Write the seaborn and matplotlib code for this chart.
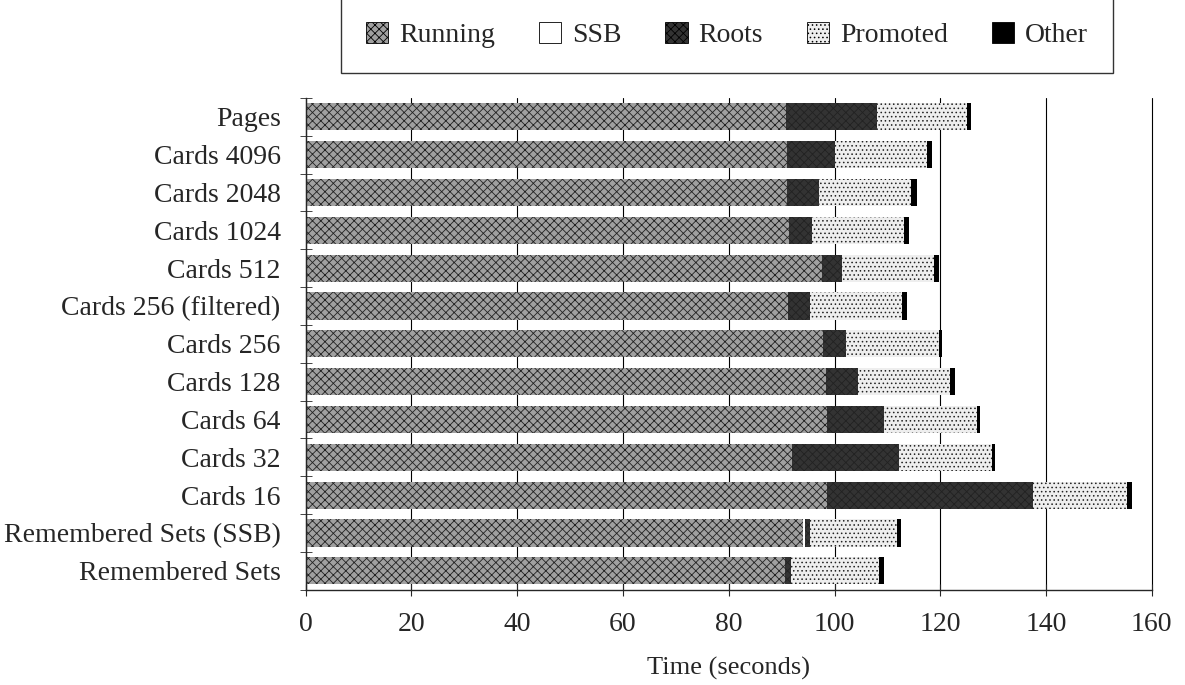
import numpy as np
import pandas as pd
import seaborn as sns
import matplotlib.pyplot as plt
from matplotlib.patches import Patch

configs = ["Pages", "Cards 4096", "Cards 2048", "Cards 1024", "Cards 512",
           "Cards 256 (filtered)", "Cards 256", "Cards 128", "Cards 64",
           "Cards 32", "Cards 16", "Remembered Sets (SSB)", "Remembered Sets"]

running  = [90.9, 91.0, 91.0, 91.4, 97.7, 91.2, 97.9, 98.4, 98.6, 91.9, 98.6, 94.0, 90.6]
ssb      = [0.0, 0.0, 0.0, 0.0, 0.0, 0.0, 0.0, 0.0, 0.0, 0.0, 0.0, 0.5, 0.0]
roots    = [17.2, 9.0, 6.0, 4.3, 3.7, 4.1, 4.3, 6.0, 10.7, 20.2, 38.9, 0.8, 1.2]
promoted = [16.9, 17.5, 17.5, 17.5, 17.4, 17.4, 17.5, 17.5, 17.6, 17.6, 17.8, 16.5, 16.7]
other    = [0.9, 0.9, 1.1, 0.8, 1.0, 1.0, 0.7, 0.8, 0.6, 0.6, 0.9, 0.8, 0.8]

parts = ["Running", "SSB", "Roots", "Promoted", "Other"]
df = pd.DataFrame({"config": configs, "Running": running, "SSB": ssb,
                   "Roots": roots, "Promoted": promoted, "Other": other})
cum = df[parts].cumsum(axis=1)
cum["config"] = df["config"]

# halftone-ish look: face colour + hatch
styles = {
    "Running":  dict(color="#a0a0a0", hatch="xxxx"),
    "SSB":      dict(color="white", hatch=""),
    "Roots":    dict(color="#333333", hatch="xxxx"),
    "Promoted": dict(color="#eeeeee", hatch="...."),
    "Other":    dict(color="black", hatch=""),
}

sns.set_style("ticks")
plt.rcParams["font.family"] = ["Liberation Serif", "DejaVu Serif"]
plt.rcParams["hatch.linewidth"] = 0.6
plt.rcParams["hatch.color"] = "#222222"

fig = plt.figure(figsize=(11.85, 6.85), dpi=100)
ax = fig.add_axes([0.258, 0.139, 0.714, 0.718])

# draw cumulative totals from the outermost segment inwards
for p in reversed(parts):
    sns.barplot(data=cum, x=p, y="config", orient="h", ax=ax,
                color=styles[p]["color"], width=0.72, linewidth=0,
                saturation=1)
    for bar in ax.patches[-len(configs):]:
        bar.set_hatch(styles[p]["hatch"])
        bar.set_edgecolor("#222222" if styles[p]["hatch"] else "none")
        bar.set_linewidth(0)

ax.set_xlim(0, 160)
ax.set_ylim(len(configs) - 0.5, -0.5)
ax.set_xticks(np.arange(0, 161, 20))
ax.grid(axis="x", color="black", linewidth=0.8)
for gl in ax.get_xgridlines():
    gl.set_clip_on(False)
ax.set_axisbelow(True)
sns.despine(ax=ax, top=True, right=True)
ax.spines["left"].set_linewidth(1)
ax.spines["bottom"].set_linewidth(1)

ax.tick_params(axis="x", direction="inout", length=8, labelsize=20, pad=12)
ax.tick_params(axis="y", which="major", length=0, labelsize=20, pad=18)
ax.set_yticks(np.arange(-0.5, len(configs), 1.0), minor=True)
ax.tick_params(axis="y", which="minor", direction="inout", length=8)

ax.set_xlabel("Time (seconds)", fontsize=19, labelpad=14)
ax.set_ylabel("")

handles = [Patch(facecolor=styles[p]["color"], hatch=styles[p]["hatch"],
                 edgecolor="black", linewidth=0.6, label=p) for p in parts]
leg = fig.legend(handles=handles, ncol=5, loc="center",
                 bbox_to_anchor=(0.276, 0.9, 0.675, 0.097), mode="expand",
                 frameon=True, fancybox=False, fontsize=20,
                 handlelength=0.8, handleheight=0.8, handletextpad=0.4,
                 borderpad=0.9)
leg.get_frame().set_edgecolor("black")
leg.get_frame().set_linewidth(1)

fig.savefig("out.png", dpi=100)
